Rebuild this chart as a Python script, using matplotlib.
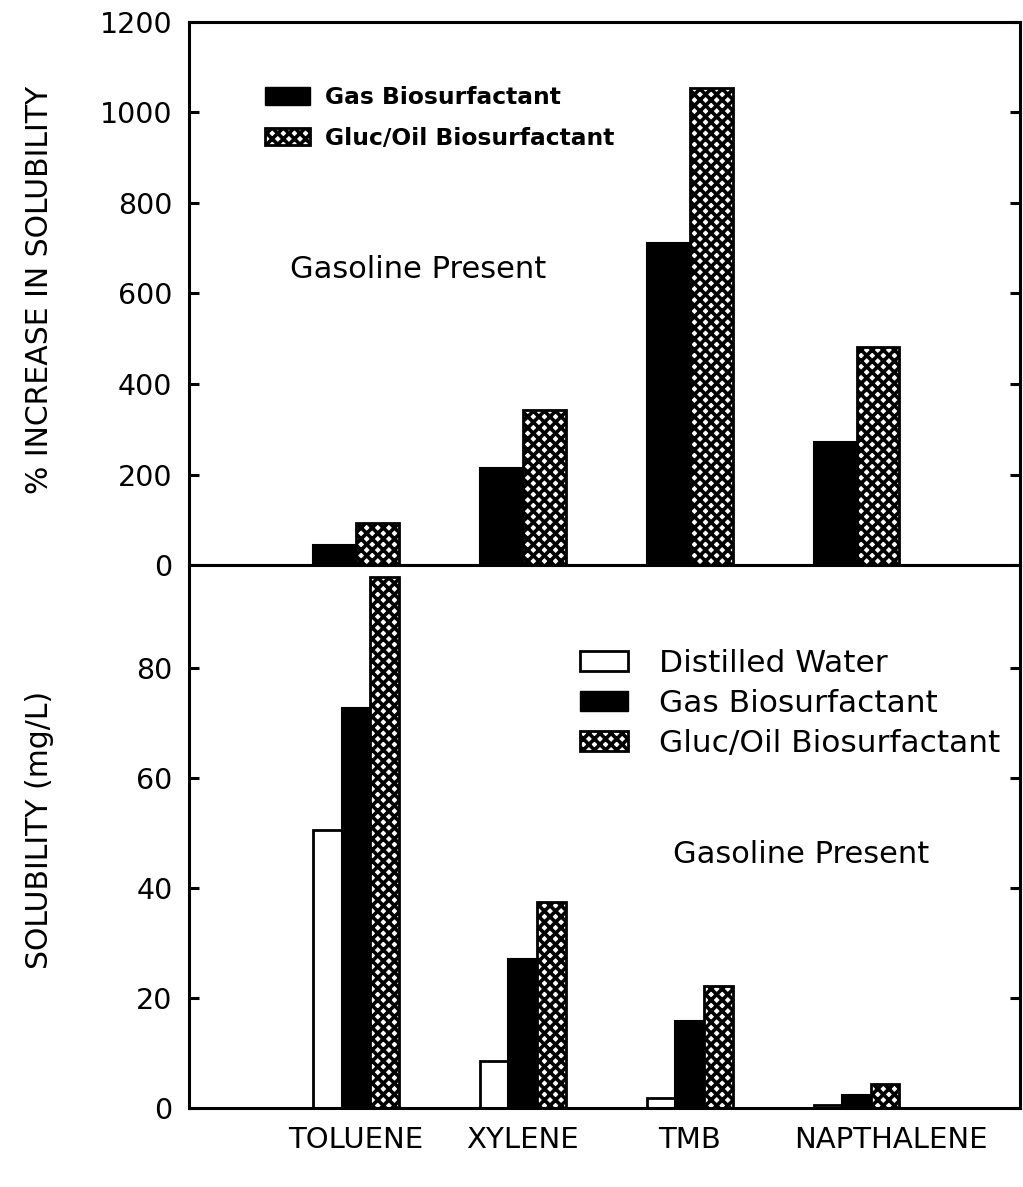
import matplotlib
matplotlib.use("Agg")
import matplotlib.pyplot as plt
import matplotlib.transforms as mtransforms
import numpy as np
from matplotlib.patches import Patch

# data
compounds = ["TOLUENE", "XYLENE", "TMB", "NAPTHALENE"]
pct_gas = [44, 214, 712, 272]
pct_gluc = [93, 343, 1054, 482]
sol_water = [50.5, 8.5, 1.8, 0.5]
sol_gas = [72.7, 27.1, 15.8, 2.4]
sol_gluc = [96.5, 37.5, 22.2, 4.4]

plt.rcParams["font.family"] = ["DejaVu Sans"]
plt.rcParams["hatch.linewidth"] = 2.6
plt.rcParams["hatch.color"] = "black"
HATCH = "xxx"

fig = plt.figure(figsize=(10.23, 11.87), dpi=100)
ax1 = fig.add_axes([0.1848, 0.524, 0.8123, 0.4575])
ax2 = fig.add_axes([0.1848, 0.0666, 0.8123, 0.4575])

x = np.arange(len(compounds))

# top: % increase
w1 = 0.2575
ax1.bar(x - w1 / 2, pct_gas, w1, color="black", edgecolor="black", linewidth=1.5)
ax1.bar(x + w1 / 2, pct_gluc, w1, color="white", edgecolor="black", hatch=HATCH, linewidth=2)
ax1.set_ylim(0, 1200)
ax1.set_yticks(range(0, 1201, 200))
ax1.set_ylabel("% INCREASE IN SOLUBILITY", fontsize=21.5)
ax1.yaxis.set_label_coords(-0.163, 0.506)
ax1.text(0.122, 0.545, "Gasoline Present", transform=ax1.transAxes, fontsize=22,
         ha="left", va="center")
h_gas = Patch(facecolor="black", edgecolor="black")
h_gluc = Patch(facecolor="white", edgecolor="black", hatch=HATCH, linewidth=2)
ax1.legend([h_gas, h_gluc], ["Gas Biosurfactant", "Gluc/Oil Biosurfactant"],
           loc="upper left", bbox_to_anchor=(0.091, 0.882), frameon=False,
           prop={"size": 16.8, "weight": "bold"}, handlelength=1.95, handleheight=0.8,
           labelspacing=0.75, handletextpad=0.65, borderpad=0, borderaxespad=0)

# bottom: solubility
w2 = 0.1717
ax2.bar(x - w2, sol_water, w2, color="white", edgecolor="black", linewidth=2)
ax2.bar(x, sol_gas, w2, color="black", edgecolor="black", linewidth=1.5)
ax2.bar(x + w2, sol_gluc, w2, color="white", edgecolor="black", hatch=HATCH, linewidth=2)
ax2.set_ylim(0, 98.7)
ax2.set_yticks(range(0, 81, 20))
ax2.set_ylabel("SOLUBILITY (mg/L)", fontsize=21.5)
ax2.yaxis.set_label_coords(-0.163, 0.512)
ax2.text(0.582, 0.466, "Gasoline Present", transform=ax2.transAxes, fontsize=22,
         ha="left", va="center")
h_water = Patch(facecolor="white", edgecolor="black", linewidth=2)
ax2.legend([h_water, h_gas, h_gluc],
           ["Distilled Water", "Gas Biosurfactant", "Gluc/Oil Biosurfactant"],
           loc="upper left", bbox_to_anchor=(0.4705, 0.845), frameon=False,
           prop={"size": 22.5}, handlelength=1.52, handleheight=0.57,
           labelspacing=0.35, handletextpad=1.0, borderpad=0, borderaxespad=0)

for ax in (ax1, ax2):
    ax.set_xlim(-1, 3.98)
    for s in ax.spines.values():
        s.set_linewidth(2.2)
    ax.tick_params(axis="y", direction="in", length=7, width=2.2, labelsize=20.5,
                   pad=12, right=True)

ax1.set_xticks([])
ax2.set_xticks(x)
ax2.set_xticklabels(compounds, fontsize=21)
ax2.tick_params(axis="x", length=0, pad=13)
# the last name sits a little right of its bars in the original
lab = ax2.get_xticklabels()[-1]
lab.set_transform(lab.get_transform() + mtransforms.ScaledTranslation(34 / 100, 0, fig.dpi_scale_trans))

plt.savefig("out.png", dpi=100)
